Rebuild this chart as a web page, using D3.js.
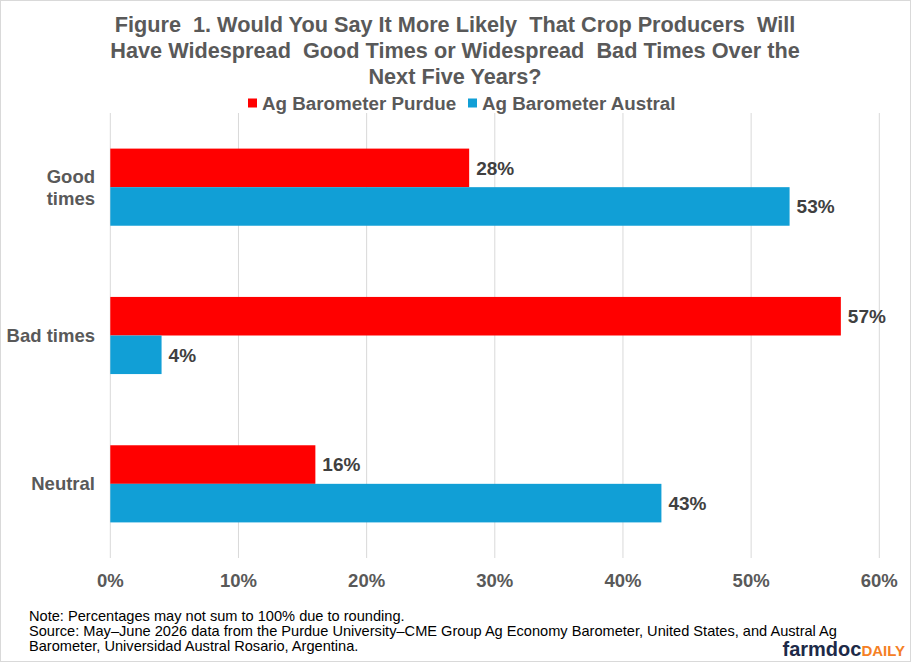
<!DOCTYPE html>
<html>
<head>
<meta charset="utf-8">
<script src="https://cdn.jsdelivr.net/npm/d3@7"></script>
<style>
  body { margin: 0; background: #fff; }
  svg { display: block; font-family: "Liberation Sans", Arial, sans-serif; }
</style>
</head>
<body>
<div id="chart"></div>
<script>
var w = 911;
var h = 662;

// values
var categories = ["Good times", "Bad times", "Neutral"];
var seriesNames = ["Ag Barometer Purdue", "Ag Barometer Austral"];
var purdue = [28, 57, 16];
var austral = [53, 4, 43];
var xTicks = [0, 10, 20, 30, 40, 50, 60];

var titleLines = [
    "Figure  1. Would You Say It More Likely  That Crop Producers  Will",
    "Have Widespread  Good Times or Widespread  Bad Times Over the",
    "Next Five Years?"
];
var noteLines = [
    "Note: Percentages may not sum to 100% due to rounding.",
    "Source: May\u2013June 2026 data from the Purdue University\u2013CME Group Ag Economy Barometer, United States, and Austral Ag",
    "Barometer, Universidad Austral Rosario, Argentina."
];

var colors = ["#ff0000", "#119fd6"];
var textColor = "#595959";

var margin = {top: 113, right: 31.7, bottom: 104, left: 110.3};

var svg = d3.select("#chart")
    .append("svg")
        .attr("width", w)
        .attr("height", h);

svg.append("rect")
    .attr("x", 0.5).attr("y", 0.5)
    .attr("width", w - 1).attr("height", h - 1)
    .attr("fill", "#fff")
    .attr("stroke", "#d9d9d9");

var x = d3.scaleLinear()
    .domain([0, 60])
    .range([margin.left, w - margin.right]);

var y = d3.scaleBand()
    .domain(categories)
    .range([margin.top, h - margin.bottom])
    .paddingInner(0.48)
    .paddingOuter(0.24);

var ySub = d3.scaleBand()
    .domain(seriesNames)
    .range([0, y.bandwidth()]);

// gridlines
svg.append("g")
    .selectAll("line")
    .data(xTicks)
    .enter()
        .append("line")
        .attr("x1", function(d) { return x(d); })
        .attr("x2", function(d) { return x(d); })
        .attr("y1", margin.top)
        .attr("y2", h - margin.bottom)
        .attr("stroke", "#d9d9d9")
        .attr("stroke-width", 1);

// x tick labels
svg.append("g")
    .selectAll("text")
    .data(xTicks)
    .enter()
        .append("text")
        .attr("x", function(d) { return x(d); })
        .attr("y", 587)
        .attr("text-anchor", "middle")
        .attr("font-size", 18.5)
        .attr("font-weight", "bold")
        .attr("fill", textColor)
        .text(function(d) { return d + "%"; });

var series = [purdue, austral];

var groups = svg.selectAll("g.series")
    .data(series)
    .enter()
        .append("g")
        .attr("class", "series");

groups.selectAll("rect")
    .data(function(d, i) {
        return d.map(function(v, j) { return {v: v, cat: categories[j], s: i}; });
    })
    .enter()
        .append("rect")
        .attr("x", x(0))
        .attr("y", function(d) { return y(d.cat) + ySub(seriesNames[d.s]); })
        .attr("width", function(d) { return x(d.v) - x(0); })
        .attr("height", ySub.bandwidth())
        .attr("fill", function(d) { return colors[d.s]; });

groups.selectAll("text")
    .data(function(d, i) {
        return d.map(function(v, j) { return {v: v, cat: categories[j], s: i}; });
    })
    .enter()
        .append("text")
        .attr("x", function(d) { return x(d.v) + 7; })
        .attr("y", function(d) { return y(d.cat) + ySub(seriesNames[d.s]) + ySub.bandwidth() / 2; })
        .attr("dy", "0.36em")
        .attr("font-size", 19)
        .attr("font-weight", "bold")
        .attr("fill", "#404040")
        .text(function(d) { return d.v + "%"; });

// category labels
var catLabels = svg.append("g")
    .selectAll("text")
    .data(categories)
    .enter()
        .append("text")
        .attr("text-anchor", "end")
        .attr("font-size", 18.5)
        .attr("font-weight", "bold")
        .attr("fill", textColor);

catLabels.each(function(d) {
    var t = d3.select(this);
    var cy = y(d) + y.bandwidth() / 2;
    var lines = d == "Good times" ? ["Good", "times"] : [d];
    lines.forEach(function(l, i) {
        t.append("tspan")
            .attr("x", 95)
            .attr("y", cy + (i - (lines.length - 1) / 2) * 22)
            .attr("dy", "0.36em")
            .text(l);
    });
});

// title
svg.append("g")
    .selectAll("text")
    .data(titleLines)
    .enter()
        .append("text")
        .attr("x", 455)
        .attr("y", function(d, i) { return 32 + i * 26; })
        .attr("text-anchor", "middle")
        .attr("font-size", 21.7)
        .attr("font-weight", "bold")
        .attr("fill", textColor)
        .style("white-space", "pre")
        .text(function(d) { return d; });

// legend
var legendX = [248, 468];
var legend = svg.append("g")
    .selectAll("g")
    .data(seriesNames)
    .enter()
        .append("g")
        .attr("transform", function(d, i) { return "translate(" + legendX[i] + ",103)"; });

legend.append("rect")
    .attr("x", 0).attr("y", -4.5)
    .attr("width", 9).attr("height", 9)
    .attr("fill", function(d, i) { return colors[i]; });

legend.append("text")
    .attr("x", 14)
    .attr("dy", "0.36em")
    .attr("font-size", 18.8)
    .attr("font-weight", "bold")
    .attr("fill", textColor)
    .text(function(d) { return d; });

// notes
svg.append("g")
    .selectAll("text")
    .data(noteLines)
    .enter()
        .append("text")
        .attr("x", 29)
        .attr("y", function(d, i) { return 621 + i * 15; })
        .attr("font-size", 14.6)
        .attr("fill", "#000")
        .text(function(d) { return d; });

// logo
var logo = svg.append("text")
    .attr("x", 905)
    .attr("y", 656)
    .attr("text-anchor", "end")
    .attr("font-weight", "bold");
logo.append("tspan")
    .attr("font-size", 20)
    .attr("fill", "#1d2a48")
    .text("farmdoc");
logo.append("tspan")
    .attr("font-size", 15)
    .attr("fill", "#f58025")
    .text("DAILY");
</script>
</body>
</html>
